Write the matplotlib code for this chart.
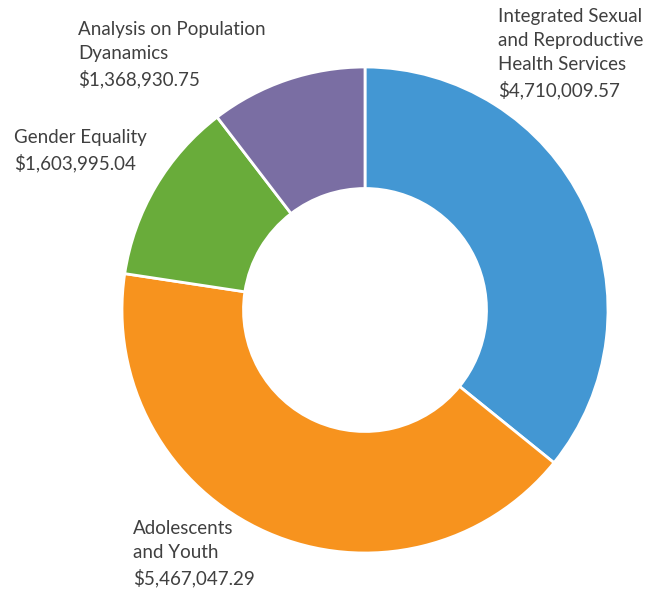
import matplotlib
matplotlib.use('Agg')
import matplotlib.pyplot as plt

categories = ['Integrated Sexual\nand Reproductive\nHealth Services',
              'Adolescents\nand Youth',
              'Gender Equality',
              'Analysis on Population\nDyanamics']
amounts = [4710009.57, 5467047.29, 1603995.04, 1368930.75]
colors = ['#4397D3', '#F7931E', '#69AC3A', '#7A6EA3']

W, H = 656, 591
fig = plt.figure(figsize=(W / 100, H / 100), dpi=100)

# donut centre ~(365,310) px, outer radius ~243 px
cx, cy, r = 365, 310, 243
ax = fig.add_axes([(cx - r) / W, (H - cy - r) / H, 2 * r / W, 2 * r / H])
ax.pie(amounts, colors=colors, startangle=90, counterclock=False,
       radius=1.0,
       wedgeprops=dict(width=0.5, edgecolor='white', linewidth=2))
ax.set_xlim(-1, 1)
ax.set_ylim(-1, 1)
ax.set_aspect('equal')
ax.axis('off')

# label positions (top-left corner, px)
label_pos = [(498, 8), (133, 520), (14, 129), (78, 21)]
for name, val, (x, y) in zip(categories, amounts, label_pos):
    fig.text(x / W, 1 - y / H, f'{name}\n${val:,.2f}', ha='left', va='top',
             fontsize=13.5, family='Lato', color='#404040', linespacing=1.5)

fig.savefig('out.png', dpi=100)
